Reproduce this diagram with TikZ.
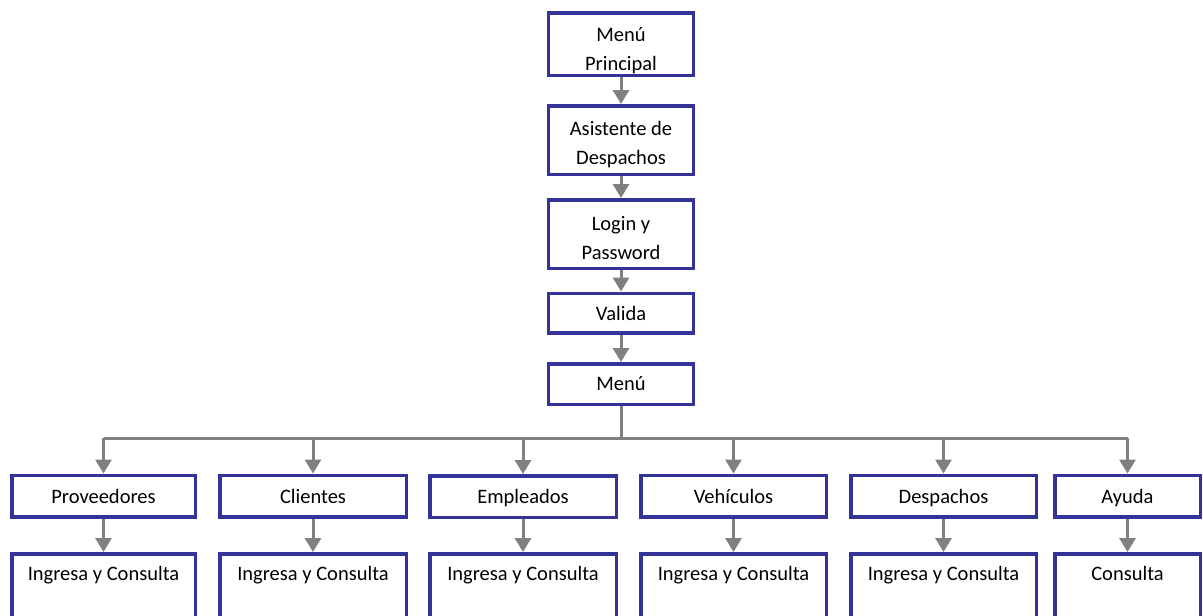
\documentclass[tikz,border=0pt]{standalone}
\usepackage{fontspec}
\setmainfont{Carlito}
\usetikzlibrary{arrows.meta}
\definecolor{boxblue}{HTML}{333399}
\definecolor{linegray}{HTML}{808080}
\tikzset{
  box/.style={draw=boxblue, line width=3.5pt, fill=white, inner sep=0pt,
    font=\fontsize{20.5}{29}\selectfont, align=center},
  topbox/.style={box, minimum width=145pt},
  rowbox/.style={box, minimum height=41.5pt, text height=19pt, text depth=4.5pt},
  leafbox/.style={box, anchor=north, text height=27pt, text depth=80pt},
  conn/.style={draw=linegray, line width=3pt, -{Triangle[length=14pt,width=16pt]}},
  trunk/.style={draw=linegray, line width=3pt}
}
\begin{document}
\begin{tikzpicture}[x=1pt,y=-1pt]
\clip (0,0) rectangle (1203,616);
\fill[white] (0,0) rectangle (1203,616);
% central column
\node[topbox, minimum height=62.5pt] (mp) at (621,44) {\rule{0pt}{27.5pt}Menú\\Principal};
\node[topbox, minimum height=68.5pt] (as) at (621,140) {\rule{0pt}{23.5pt}Asistente de\\Despachos};
\node[topbox, minimum height=68.5pt] (lg) at (621,234) {\rule{0pt}{21.5pt}Login y\\Password};
\node[topbox, minimum height=39.5pt] (va) at (621,313) {Valida};
\node[topbox, minimum height=40.5pt] (me) at (621,384) {Menú};
% second level
\node[rowbox, minimum width=183.5pt] (pr) at (103.5,496) {Proveedores};
\node[rowbox, minimum width=186.5pt] (cl) at (313,496) {Clientes};
\node[rowbox, minimum width=186.5pt] (em) at (523,496.5) {Empleados};
\node[rowbox, minimum width=185.5pt] (ve) at (733.5,496) {Vehículos};
\node[rowbox, minimum width=185.5pt] (de) at (943.5,496) {Despachos};
\node[rowbox, minimum width=145.5pt] (ay) at (1127.5,496) {Ayuda};
% leaves
\node[leafbox, minimum width=183.5pt] (pri) at (103.5,552) {Ingresa y Consulta};
\node[leafbox, minimum width=186.5pt] (cli) at (313,552) {Ingresa y Consulta};
\node[leafbox, minimum width=186.5pt] (emi) at (523,552) {Ingresa y Consulta};
\node[leafbox, minimum width=185.5pt] (vei) at (733.5,552) {Ingresa y Consulta};
\node[leafbox, minimum width=185.5pt] (dei) at (943.5,552) {Ingresa y Consulta};
\node[leafbox, minimum width=145.5pt] (ayi) at (1127.5,552) {Consulta};
% connectors
\draw[conn] (mp) -- (as);
\draw[conn] (as) -- (lg);
\draw[conn] (lg) -- (va);
\draw[conn] (va) -- (me);
\coordinate (bus) at (621,438);
\draw[trunk] (me.south) -- (bus);
\draw[trunk] (pr.north |- bus) -- (ay.north |- bus);
\foreach \n in {pr,cl,em,ve,de,ay}{
  \draw[conn] (\n.north |- bus) -- (\n.north);
}
\draw[conn] (pr) -- (pri);
\draw[conn] (cl) -- (cli);
\draw[conn] (em) -- (emi);
\draw[conn] (ve) -- (vei);
\draw[conn] (de) -- (dei);
\draw[conn] (ay) -- (ayi);
\end{tikzpicture}
\end{document}
